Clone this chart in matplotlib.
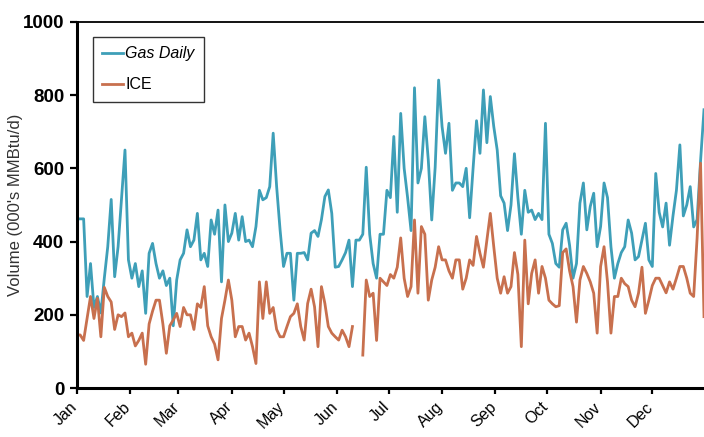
import numpy as np
import pandas as pd
import matplotlib
matplotlib.use('Agg')
import matplotlib.pyplot as plt
import matplotlib.dates as mdates
from matplotlib.transforms import ScaledTranslation

plt.rcParams['font.family'] = ['Liberation Sans', 'DejaVu Sans']

# one reading every second day through the year
dates = pd.date_range('2006-01-01', periods=183, freq='2D')

gas_daily = [
    462, 462, 462, 250, 340, 220, 250, 205, 300, 386,
    515, 304, 386, 520, 650, 350, 300, 340, 277, 320,
    204, 368, 395, 340, 300, 320, 280, 300, 170, 295,
    350, 368, 432, 386, 404, 477, 350, 368, 332, 459,
    420, 486, 290, 500, 400, 423, 477, 404, 468, 400,
    404, 386, 441, 540, 514, 520, 550, 696, 550, 432,
    332, 368, 368, 240, 368, 368, 370, 350, 423, 430,
    414, 460, 523, 541, 477, 330, 332, 350, 370, 404,
    277, 404, 404, 420, 603, 420, 340, 300, 420, 420,
    540, 520, 687, 480, 750, 600, 520, 430, 820, 560,
    600, 741, 623, 459, 603, 841, 714, 641, 723, 540,
    560, 560, 550, 600, 465, 600, 730, 641, 814, 670,
    796, 714, 650, 525, 505, 430, 500, 640, 520, 420,
    540, 480, 486, 460, 477, 460, 723, 420, 395, 340,
    330, 432, 450, 390, 300, 340, 505, 560, 432, 496,
    532, 386, 441, 560, 520, 386, 300, 340, 370, 386,
    459, 423, 350, 359, 404, 450, 350, 332, 586, 480,
    440, 505, 390, 470, 540, 664, 470, 500, 550, 440,
    460, 620, 760,
]

ice = [
    145, 145, 130, 190, 250, 190, 245, 140, 275, 250,
    235, 160, 200, 195, 205, 140, 150, 115, 130, 150,
    65, 175, 210, 240, 240, 175, 95, 170, 186, 204,
    168, 220, 200, 200, 160, 230, 220, 277, 170, 140,
    120, 77, 190, 240, 295, 240, 140, 168, 168, 131,
    150, 113, 67, 290, 190, 290, 204, 220, 160, 140,
    140, 168, 195, 204, 230, 168, 131, 231, 270, 222,
    113, 277, 231, 168, 150, 140, 131, 158, 140, 113,
    168, np.nan, np.nan, 90, 295, 250, 259, 130, 300, 290,
    280, 310, 300, 330, 410, 300, 250, 277, 459, 259,
    441, 420, 240, 295, 330, 386, 350, 350, 320, 300,
    350, 350, 270, 300, 350, 335, 414, 368, 330, 404,
    477, 386, 300, 259, 304, 259, 277, 370, 310, 113,
    404, 230, 313, 350, 259, 332, 300, 240, 230, 222,
    225, 370, 380, 320, 277, 180, 295, 332, 313, 290,
    259, 150, 332, 386, 290, 150, 250, 250, 300, 285,
    277, 240, 222, 259, 330, 204, 240, 280, 300, 300,
    280, 260, 290, 270, 300, 332, 332, 300, 259, 250,
    410, 614, 195,
]

fig = plt.figure(figsize=(7.04, 4.37), dpi=100)
ax = fig.add_axes([0.109, 0.112, 0.891, 0.838])

ax.plot(dates, gas_daily, color='#3e9fb8', lw=2.0, label='Gas Daily')
ax.plot(dates, ice, color='#c8704e', lw=2.0, label='ICE')

ax.set_ylim(0, 1000)
ax.set_yticks(range(0, 1001, 200))
ax.set_xlim(pd.Timestamp('2006-01-01'), pd.Timestamp('2006-12-31'))
ax.xaxis.set_major_locator(mdates.MonthLocator())
ax.xaxis.set_major_formatter(mdates.DateFormatter('%b'))

ax.spines['right'].set_visible(False)
ax.spines['left'].set_linewidth(2.2)
ax.spines['bottom'].set_linewidth(2.2)
ax.spines['top'].set_linewidth(1.3)

ax.tick_params(axis='y', direction='out', length=5, width=1.6, pad=4,
               labelsize=13.5)
ax.tick_params(axis='x', direction='out', length=4, width=1.6, pad=4,
               labelsize=11.5)
for lbl in ax.get_yticklabels():
    lbl.set_fontweight('bold')
shift = ScaledTranslation(-7 / 100, 0, fig.dpi_scale_trans)
for lbl in ax.get_xticklabels():
    lbl.set_rotation(45)
    lbl.set_ha('right')
    lbl.set_va('top')
    lbl.set_rotation_mode('anchor')
    lbl.set_transform(lbl.get_transform() + shift)

ax.set_ylabel("Volume (000's MMBtu/d)", fontsize=12, color='#333333')
ax.yaxis.set_label_coords(-0.085, 0.5)

leg = ax.legend(loc='upper left', bbox_to_anchor=(0.0255, 0.959),
                borderaxespad=0, fancybox=False, frameon=True,
                edgecolor='black', fontsize=11.5, handlelength=1.3,
                handletextpad=0.15, labelspacing=1.0, borderpad=0.6)
leg.get_frame().set_linewidth(1.0)
leg.get_texts()[0].set_style('italic')

fig.savefig('out.png', dpi=100)
